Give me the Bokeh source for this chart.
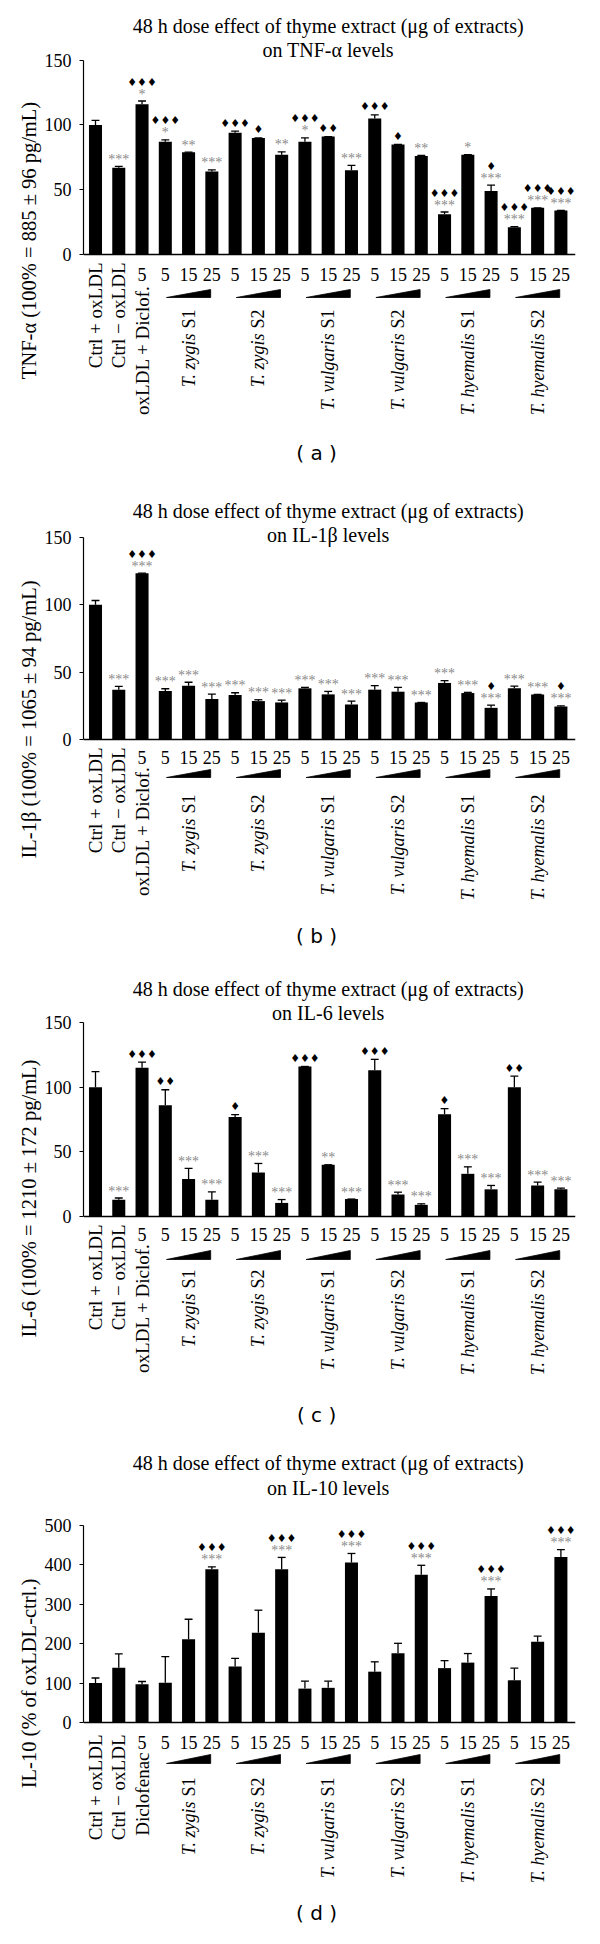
import math
from bokeh.plotting import figure
from bokeh.models import Range1d, FixedTicker, Span, Title
from bokeh.layouts import column
from bokeh.embed import file_html
from bokeh.resources import INLINE
from bokeh.core.properties import value

SERIF = "Liberation Serif"
SANS = "DejaVu Sans"

# ---------------- data ----------------
title_line1 = "48 h dose effect of thyme extract (μg of extracts)"
control_labels = ["Ctrl + oxLDL", "Ctrl − oxLDL", "oxLDL + Diclof."]
control_labels_d = ["Ctrl + oxLDL", "Ctrl − oxLDL", "Diclofenac"]
species = ["T. zygis", "T. zygis", "T. vulgaris", "T. vulgaris", "T. hyemalis", "T. hyemalis"]
seasons = ["S1", "S2", "S1", "S2", "S1", "S2"]
dose_labels = ["", "", "5"] + ["5", "15", "25"] * 6

tnf_values = [100, 67, 116, 87, 79, 64, 94, 90, 77, 87, 91, 65, 105, 85, 76, 31, 77, 49, 21, 36, 34]
tnf_errors = [3.5, 1, 2.5, 1.5, 0, 1.3, 1.3, 0, 2.3, 3, 0, 3.8, 2.8, 0, 0.5, 1.8, 0, 4.6, 0.5, 0, 0]
tnf_stars = ["", "***", "*", "*", "**", "***", "", "", "**", "*", "", "***", "", "", "**", "***", "*", "***", "***", "***", "***"]
tnf_diamonds = [0, 0, 3, 3, 0, 0, 3, 1, 0, 3, 2, 0, 3, 1, 0, 3, 0, 1, 3, 3, 3]

il1_values = [100, 37, 123.5, 36, 40, 30, 33, 28.5, 27.5, 38, 33.5, 26, 37, 35.5, 27.5, 42, 34.5, 23.5, 38, 33.5, 24.5]
il1_errors = [3.2, 2.5, 0, 1.7, 2.5, 3.7, 1.7, 1, 1.7, 0.7, 2.2, 2.5, 3, 3.2, 0, 1.7, 0.5, 2, 1.7, 0, 0.5]
il1_stars = [""] + ["***"] * 20
il1_diamonds = [0, 0, 3, 0, 0, 0, 0, 0, 0, 0, 0, 0, 0, 0, 0, 0, 0, 1, 0, 0, 1]

il6_values = [100, 13, 115, 86, 29, 13, 77, 34, 10.5, 116, 40, 13.5, 113, 17, 9, 79, 33, 21, 100, 24, 21]
il6_errors = [12, 1.3, 4.4, 12, 8.2, 6, 1.8, 7, 2.6, 0, 0, 0, 8.5, 1.8, 0.8, 4.4, 5.4, 3, 8.5, 2.6, 1]
il6_stars = ["", "***", "", "", "***", "***", "", "***", "***", "", "**", "***", "", "***", "***", "", "***", "***", "", "***", "***"]
il6_diamonds = [0, 0, 3, 2, 0, 0, 1, 0, 0, 3, 0, 0, 3, 0, 0, 1, 0, 0, 2, 0, 0]

il10_values = [100, 139, 97, 101, 211, 389, 142, 228, 389, 86, 88, 406, 129, 176, 375, 138, 152, 321, 107, 205, 420]
il10_errors = [13, 35, 7, 66, 51, 6, 21, 57, 30, 19, 17, 23, 25, 25, 24, 19, 23, 18, 31, 14, 19]
il10_stars = ["", "", "", "", "", "***", "", "", "***", "", "", "***", "", "", "***", "", "", "***", "", "", "***"]
il10_diamonds = [0, 0, 0, 0, 0, 3, 0, 0, 3, 0, 0, 3, 0, 0, 3, 0, 0, 3, 0, 0, 3]

# ---------------- layout constants (page pixels) ----------------
FIG_W = 584
FRAME_L = 91
FRAME_R = 583
BAR0_PX = 103.0
STEP_PX = 23.27
BAR_W = 0.56
CAP_W = 0.34


def make_panel(vals, errs, stars, diamonds, title2, ylabel, ticks, controls, letter, L):
    n = len(vals)
    xs = list(range(n))
    T, H, y0, ppu = L["top"], L["height"], L["y0"], L["ppu"]

    def py(page_y):
        return (y0 - page_y) / ppu

    def pxx(page_x):
        return (page_x - BAR0_PX) / STEP_PX

    p = figure(width=FIG_W, height=H,
               x_range=Range1d(pxx(FRAME_L), pxx(FRAME_R)),
               y_range=Range1d(-(T + H - y0) / ppu, (y0 - T) / ppu),
               x_axis_type=None, toolbar_location=None, output_backend="svg",
               min_border_left=FRAME_L - 8, min_border_right=FIG_W - (FRAME_R - 8),
               min_border_top=0, min_border_bottom=0)
    p.outline_line_color = None
    p.ygrid.visible = False
    p.background_fill_color = "white"
    p.border_fill_color = "white"

    ax = p.yaxis[0]
    ax.bounds = (0, ticks[-1])
    ax.ticker = FixedTicker(ticks=ticks)
    ax.minor_tick_line_color = None
    ax.major_tick_out = 4
    ax.major_tick_in = 0
    ax.axis_line_color = "black"
    ax.axis_line_width = 1.2
    ax.major_tick_line_color = "black"
    ax.major_label_text_font = SERIF
    ax.major_label_text_font_size = "18px"
    ax.major_label_text_color = "black"
    ax.major_label_standoff = 8

    # y-axis title on the left side, shifted up so it is centred on the axis extent
    axis_mid_page = y0 - ppu * ticks[-1] / 2
    frame_mid_page = T + H / 2
    p.add_layout(Title(text=ylabel, align="center", offset=frame_mid_page - axis_mid_page,
                       text_font=SERIF, text_font_size="20.5px", text_font_style="normal",
                       text_color="black", standoff=4), "left")

    # zero line
    p.add_layout(Span(location=0, dimension="width", line_color="black", line_width=1.5))

    # bars
    p.vbar(x=xs, top=vals, width=BAR_W, bottom=0, fill_color="black", line_color=None)
    tops = [v + e for v, e in zip(vals, errs)]
    p.segment(x0=xs, y0=vals, x1=xs, y1=tops, line_color="black", line_width=1.3)
    p.segment(x0=[x - CAP_W / 2 for x in xs], y0=tops, x1=[x + CAP_W / 2 for x in xs], y1=tops,
              line_color="black", line_width=1.3)

    # significance markers
    sx, sy, st = [], [], []
    dx, dy, dt, dof = [], [], [], []
    for i in range(n):
        level = 0
        if stars[i]:
            sx.append(i); sy.append(tops[i]); st.append(stars[i])
            level = 1
        if diamonds[i]:
            dx.append(i); dy.append(tops[i]); dt.append("♦" * diamonds[i])
            dof.append(-19 if level else -8)
    p.text(x=sx, y=sy, text=st, y_offset=-7, text_font=value(SERIF), text_font_size="14px",
           text_color="#8a8a8a", text_align="center", text_baseline="middle")
    p.text(x=dx, y=dy, text=dt, y_offset=dof, text_font=value(SANS), text_font_size="11px",
           text_color="black", text_align="center", text_baseline="middle")

    # title
    xc = (n - 1) / 2
    p.text(x=[xc, xc], y=[py(L["t1"]), py(L["t2"])], text=[title_line1, title2],
           text_font=value(SERIF), text_font_size="20px", text_color="black",
           text_align="center", text_baseline="middle")

    # dose numbers
    p.text(x=xs, y=[py(y0 + L["num"])] * n, text=dose_labels, text_font=value(SERIF),
           text_font_size="18px", text_color="black", text_align="center", text_baseline="middle")

    # control labels (rotated)
    p.text(x=[0, 1], y=[py(y0 + L["ctrl"])] * 2, text=controls[:2], angle=math.pi / 2,
           text_font=value(SERIF), text_font_size="19px", text_color="black",
           text_align="right", text_baseline="middle")
    p.text(x=[2], y=[py(y0 + L["dic"])], text=controls[2:3], angle=math.pi / 2,
           text_font=value(SERIF), text_font_size="19px", text_color="black",
           text_align="right", text_baseline="middle")

    # wedges and group labels
    wxs, wys, gx = [], [], []
    for g in range(len(species)):
        a = 3 + 3 * g
        b = a + 2
        lx, rx = a + 0.05, b - 0.05
        yb, yt = py(y0 + L["wb"]), py(y0 + L["wt"])
        wxs.append([lx, rx, rx])
        wys.append([yb, yb, yt])
        gx.append(a + 1)
    p.patches(xs=wxs, ys=wys, fill_color="black", line_color="black", line_width=0.8)
    gy = py(y0 + L["grp"])
    p.text(x=gx, y=[gy] * len(gx), text=seasons, angle=math.pi / 2,
           text_font=value(SERIF), text_font_size="18px", text_color="black",
           text_align="right", text_baseline="middle")
    p.text(x=gx, y=[gy] * len(gx), text=species, angle=math.pi / 2, y_offset=24,
           text_font=value(SERIF), text_font_size="18px", text_font_style="italic",
           text_color="black", text_align="right", text_baseline="middle")

    # panel letter
    p.text(x=[9.5], y=[py(L["letter"])], text=[letter], text_font=value(SANS),
           text_font_size="20px", text_color="black", text_align="center", text_baseline="middle")
    return p


LA = dict(top=8, height=480, y0=262, ppu=194.3 / 150, t1=33, t2=57, ctrl=8, num=20, dic=31,
          wt=35, wb=43, grp=55, letter=460)
LB = dict(top=488, height=478, y0=747, ppu=202 / 150, t1=518, t2=542, ctrl=8, num=18, dic=27,
          wt=30, wb=38, grp=55, letter=943)
LC = dict(top=966, height=480, y0=1224, ppu=194 / 150, t1=996, t2=1020, ctrl=8, num=18, dic=27,
          wt=34, wb=43, grp=53, letter=1422)
LD = dict(top=1446, height=490, y0=1730, ppu=197 / 500, t1=1470, t2=1495, ctrl=12, num=20, dic=30,
          wt=32, wb=41, grp=55, letter=1920)

pa = make_panel(tnf_values, tnf_errors, tnf_stars, tnf_diamonds, "on TNF-α levels",
                "TNF-α (100% = 885 ± 96 pg/mL)", [0, 50, 100, 150], control_labels, "( a )", LA)
pb = make_panel(il1_values, il1_errors, il1_stars, il1_diamonds, "on IL-1β levels",
                "IL-1β (100% = 1065 ± 94 pg/mL)", [0, 50, 100, 150], control_labels, "( b )", LB)
pc = make_panel(il6_values, il6_errors, il6_stars, il6_diamonds, "on IL-6 levels",
                "IL-6 (100% = 1210 ± 172 pg/mL)", [0, 50, 100, 150], control_labels, "( c )", LC)
pd = make_panel(il10_values, il10_errors, il10_stars, il10_diamonds, "on IL-10 levels",
                "IL-10 (% of oxLDL-ctrl.)", [0, 100, 200, 300, 400, 500], control_labels_d, "( d )", LD)

layout = column(pa, pb, pc, pd, spacing=0)
open("out.html", "w").write(file_html(layout, INLINE))
